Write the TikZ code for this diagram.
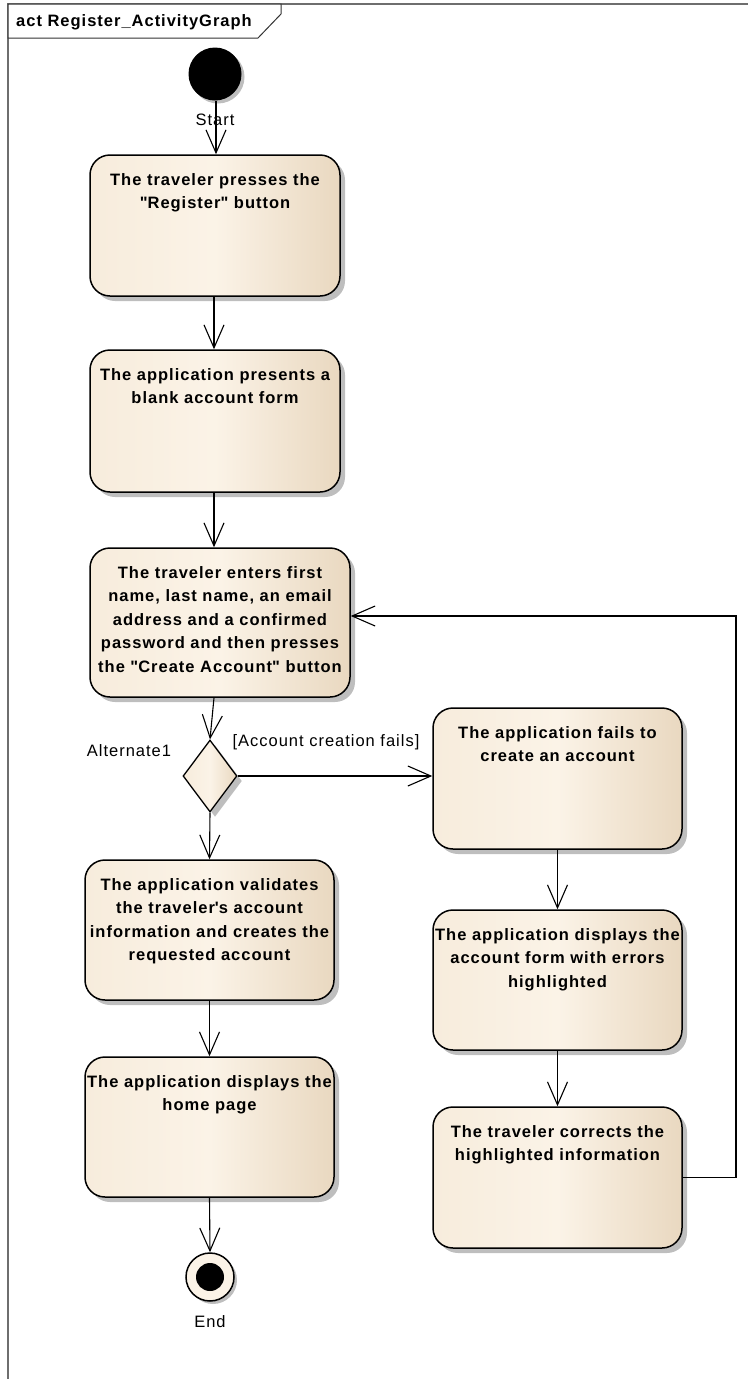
\documentclass[tikz,border=0pt]{standalone}
\usepackage{fontspec}
\setmainfont{Liberation Sans}[LetterSpace=6]
\usetikzlibrary{arrows.meta,shapes.geometric,shadows}

% straight quote glyphs, set directly so that no text mapping curls them
\newcommand{\dq}{\XeTeXglyph\XeTeXcharglyph"22\relax}
\newcommand{\sq}{\XeTeXglyph\XeTeXcharglyph"27\relax}

\definecolor{actL}{RGB}{247,236,220}
\definecolor{actM}{RGB}{251,243,231}
\definecolor{actR}{RGB}{233,216,192}
\definecolor{shadowgray}{RGB}{190,190,190}
\definecolor{framegray}{RGB}{110,110,110}

\tikzset{
  shadowed/.style={drop shadow={shadow xshift=5pt, shadow yshift=-5pt, fill=shadowgray, opacity=1}},
  act/.style={rectangle, rounded corners=20pt, draw=black, line width=1.5pt,
    left color=actL, right color=actR, middle color=actM, shadowed, inner sep=0pt},
  acttext/.style={anchor=north, align=center, inner sep=0pt, yshift=-19pt,
    font=\fontsize{16.5}{23.5}\selectfont\bfseries},
  decision/.style={diamond, draw=black, line width=1.3pt, minimum width=54pt, minimum height=72pt,
    inner sep=0pt, left color=actL, right color=actR, middle color=actM, shadowed},
  startnode/.style={circle, fill=black, minimum size=53pt, inner sep=0pt,
    drop shadow={shadow xshift=3pt, shadow yshift=-3pt, fill=shadowgray, opacity=1}},
  endnode/.style={circle, draw=black, line width=1.5pt, fill=actM, minimum size=48pt, inner sep=0pt,
    drop shadow={shadow xshift=3pt, shadow yshift=-3pt, fill=shadowgray, opacity=1}},
  endcore/.style={circle, fill=black, minimum size=28pt, inner sep=0pt},
  lbl/.style={font=\fontsize{16.5}{20}\selectfont, inner sep=0pt},
  flow/.style={line width=1.1pt, -{Straight Barb[length=23pt, width=20pt, line width=1.1pt]}},
}

\begin{document}
\begin{tikzpicture}[x=1pt, y=-1pt]
\useasboundingbox (0,0) rectangle (748,1379);

% diagram frame and its name tab
\draw[framegray, line width=1.5pt] (748,4) -- (8,4) -- (8,1379);
\draw[draw=black!80, line width=1pt, fill=white] (8,4) -- (281,4) -- (281,14) -- (258,38) -- (8,38) -- cycle;
\node[anchor=west, inner sep=0pt, font=\fontsize{16.5}{20}\selectfont\bfseries] (title) at (16,22) {act Register\_ActivityGraph};

% initial and final nodes
\node[startnode] (start) at (215,74) {};
\node[endnode] (end) at (210,1277) {};
\node[endcore] (endin) at (end) {};

% actions
\node[act, minimum width=250pt, minimum height=141pt] (b1) at (215,225.5) {};
\node[act, minimum width=250pt, minimum height=142pt] (b2) at (215,421) {};
\node[act, minimum width=260pt, minimum height=149pt] (b3) at (220,622.5) {};
\node[act, minimum width=249pt, minimum height=141pt] (b4) at (557.5,778.5) {};
\node[act, minimum width=249pt, minimum height=140pt] (b5) at (557.5,980) {};
\node[act, minimum width=249pt, minimum height=141pt] (b6) at (557.5,1177.5) {};
\node[act, minimum width=249pt, minimum height=140pt] (b7) at (209.5,930) {};
\node[act, minimum width=249pt, minimum height=140pt] (b8) at (209.5,1127) {};

\node[acttext] (t1) at (b1.north) {The traveler presses the\\\dq Register\dq{} button};
\node[acttext] (t2) at (b2.north) {The application presents a\\blank account form};
\node[acttext] (t3) at (b3.north) {The traveler enters first\\name, last name, an email\\address and a confirmed\\password and then presses\\the \dq Create Account\dq{} button};
\node[acttext] (t4) at (b4.north) {The application fails to\\create an account};
\node[acttext] (t5) at (b5.north) {The application displays the\\account form with errors\\highlighted};
\node[acttext] (t6) at (b6.north) {The traveler corrects the\\highlighted information};
\node[acttext] (t7) at (b7.north) {The application validates\\the traveler\sq s account\\information and creates the\\requested account};
\node[acttext] (t8) at (b8.north) {The application displays the\\home page};

% decision
\node[decision] (dia) at (210,776) {};

% labels
\node[lbl] (startlbl) at (215,120) {Start};
\node[lbl] (endlbl) at (210,1322) {End};
\node[lbl] (altlbl) at (129,751) {Alternate1};
\node[lbl] (guard) at (326,742) {[Account creation fails]};

% control flows
\draw[flow] ([xshift=1pt]start.south) -- ([xshift=1pt]b1.north);
\draw[flow] ([xshift=-1pt]b1.south) -- ([xshift=-1pt]b2.north);
\draw[flow] ([xshift=-1pt]b2.south) -- ([xshift=-6pt]b3.north);
\draw[flow] ([xshift=-6pt]b3.south) -- (dia.north);
\draw[flow] (dia.east) -- (dia.east -| b4.west);
\draw[flow] (dia.south) -- (b7.north);
\draw[flow] (b4.south) -- (b5.north);
\draw[flow] (b5.south) -- (b6.north);
\draw[flow] (b7.south) -- (b8.north);
\draw[flow] (b8.south) -- (end.north);
\coordinate (retc) at (736,616);
\draw[flow] (b6.east) -| (retc) -- ([yshift=6.5pt]b3.east);
\end{tikzpicture}
\end{document}
